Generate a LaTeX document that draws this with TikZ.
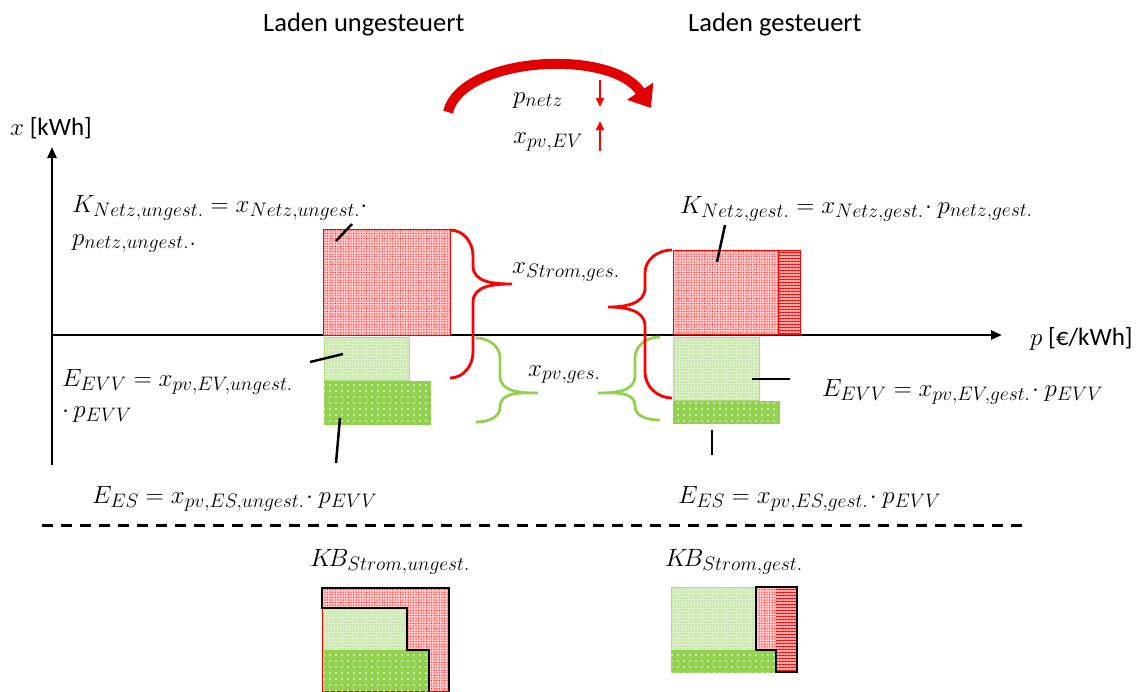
\RequirePackage{fix-cm}
\documentclass[tikz,border=0pt]{standalone}
\usepackage[no-math]{fontspec}
\setmainfont{Carlito}
\DeclareMathSizes{25}{25}{19.5}{15}
\usetikzlibrary{arrows.meta,patterns.meta}
\definecolor{gdark}{HTML}{92D050}
\definecolor{glight}{HTML}{DCEFCB}
\definecolor{rfill}{HTML}{FFC4C4}
\definecolor{rarc}{HTML}{E00000}
\begin{document}
\begin{tikzpicture}[x=1pt,y=-1pt,
  lbl/.style={inner sep=0pt, font=\fontsize{25}{29}\selectfont},
  ttl/.style={inner sep=0pt, font=\fontsize{26.5}{30}\selectfont},
  box/.style={inner sep=0pt, outer sep=0pt, anchor=north west},
  redbox/.style={box, draw=red, line width=0.8pt, fill=rfill,
     postaction={pattern={Dots[distance=2.6pt,radius=0.55pt]}, pattern color=red}},
  stripebox/.style={box, draw=red, line width=1pt, fill=red!35,
     postaction={pattern={Lines[distance=3pt,angle=0,line width=1pt]}, pattern color=red}},
  glbox/.style={box, draw=gdark!70, line width=0.6pt, fill=glight,
     postaction={pattern={Dots[distance=3pt,radius=0.6pt]}, pattern color=gdark}},
  gdbox/.style={box, draw=gdark, line width=0.6pt, fill=gdark,
     postaction={pattern={Dots[distance=6pt,radius=0.8pt]}, pattern color=white}},
  rbrace/.style={draw=red, line width=2.8pt},
  gbrace/.style={draw=gdark, line width=2.8pt},
  leader/.style={draw=black, line width=2.5pt},
  axis/.style={draw=black, line width=2.5pt, -{Triangle[length=11pt,width=9pt]}},
  outline/.style={draw=black, line width=2.5pt, line join=miter}
]
\useasboundingbox (0,0) rectangle (1145,691);

% titles
\node[ttl, anchor=base west] (t1) at (263,31) {Laden ungesteuert};
\node[ttl, anchor=base west] (t2) at (688,31) {Laden gesteuert};

% curved arrow
\coordinate (arcS) at (448,112);
\coordinate (arcE) at (651,108);
\draw[rarc, line width=10pt, -{Triangle[length=20pt,width=30pt]}]
  (arcS) .. controls (462,56) and (612,48) .. (arcE);

% p_netz and x_pv,EV
\node[lbl, anchor=base west] (pn) at (513,103) {$p_{netz}$};
\node[lbl, anchor=base west] (xpe) at (513,143) {$x_{pv,EV}$};
\coordinate (d1) at (600,80); \coordinate (d2) at (600,107);
\coordinate (u1) at (600,151); \coordinate (u2) at (600,121);
\draw[red, line width=2pt, -{Triangle[length=9pt,width=8pt]}] (d1) -- (d2);
\draw[red, line width=2pt, -{Triangle[length=9pt,width=8pt]}] (u1) -- (u2);

% axes
\coordinate (O) at (52,335);
\coordinate (ybot) at (52,465);
\coordinate (ytop) at (52,147);
\coordinate (xend) at (1002,335);
\draw[axis] (ybot) -- (ytop);
\draw[axis] (O) -- (xend);
\node[lbl, anchor=base west] (ylab) at (10,135) {$x$ [kWh]};
\node[lbl, anchor=base west] (xlab) at (1030,345) {$p$ [€/kWh]};

% left boxes
\node[redbox, minimum width=127pt, minimum height=106pt] (rl) at (323,229) {};
\node[glbox, minimum width=85pt, minimum height=43pt] (gll) at (324,337) {};
\node[gdbox, minimum width=106pt, minimum height=43pt] (gdl) at (324,381) {};

% right boxes
\node[redbox, minimum width=105pt, minimum height=84pt] (rr) at (673,250) {};
\node[stripebox, minimum width=22pt, minimum height=84pt] (rs) at (778,250) {};
\node[glbox, minimum width=86pt, minimum height=63pt] (glr) at (673,337) {};
\node[gdbox, minimum width=106pt, minimum height=22pt] (gdr) at (673,401) {};

% braces
\draw[rbrace] (450,230) to[out=0,in=90] (473,256) -- (473,266) to[out=-90,in=180] (512,284)
  to[out=180,in=90] (473,302) -- (473,352) to[out=-90,in=0] (450,378);
\draw[gbrace] (476,338) to[out=0,in=90] (500,358) -- (500,376) to[out=-90,in=180] (538,393)
  to[out=180,in=90] (500,407) to[out=-90,in=0] (476,422);
\draw[gbrace] (660,337) to[out=180,in=90] (635,358) -- (635,376) to[out=-90,in=0] (598,393)
  to[out=0,in=90] (635,406) to[out=-90,in=180] (660,420);
\draw[rbrace] (672,250) to[out=180,in=90] (645,273) -- (645,288) to[out=-90,in=0] (608,307)
  to[out=0,in=90] (645,326) -- (645,372) to[out=-90,in=180] (672,398);

\node[lbl, anchor=base west] (xsg) at (512,273) {$x_{Strom,ges.}$};
\node[lbl, anchor=base west] (xpg) at (528,376) {$x_{pv,ges.}$};

% labels
\node[lbl, anchor=base west] (knu) at (72,212) {$K_{Netz,ungest.} = x_{Netz,ungest.}\cdot$};
\node[lbl, anchor=base west] (pnu) at (72,245) {$p_{netz,ungest.}.$};
\node[lbl, anchor=base west] (eevu) at (62,386) {$E_{EVV} = x_{pv,EV,ungest.}$};
\node[lbl, anchor=base west] (eevu2) at (62,417) {$\cdot\, p_{EVV}$};
\node[lbl, anchor=base west] (kng) at (680,213) {$K_{Netz,gest.} = x_{Netz,gest.}\!\cdot p_{netz,gest.}$};
\node[lbl, anchor=base west] (eevg) at (822,396) {$E_{EVV} = x_{pv,EV,gest.}\!\cdot p_{EVV}$};
\node[lbl, anchor=base west] (eesu) at (92,503) {$E_{ES} = x_{pv,ES,ungest.}\!\cdot p_{EVV}$};
\node[lbl, anchor=base west] (eesg) at (678,503) {$E_{ES} = x_{pv,ES,gest.}\!\cdot p_{EVV}$};
\node[lbl, anchor=base west] (kbu) at (310,566) {$K\!B_{Strom,ungest.}$};
\node[lbl, anchor=base west] (kbg) at (665,566) {$K\!B_{Strom,gest.}$};

% leaders
\coordinate (l1a) at (336,241); \coordinate (l1b) at (352,224);
\coordinate (l2a) at (717,262); \coordinate (l2b) at (725,225);
\coordinate (l3a) at (310,362); \coordinate (l3b) at (343,354);
\coordinate (l4a) at (340,418); \coordinate (l4b) at (336,463);
\coordinate (l5a) at (752,379); \coordinate (l5b) at (790,379);
\coordinate (l6a) at (712,430); \coordinate (l6b) at (712,455);
\draw[leader] (l1a) -- (l1b);
\draw[leader] (l2a) -- (l2b);
\draw[leader] (l3a) -- (l3b);
\draw[leader] (l4a) -- (l4b);
\draw[leader] (l5a) -- (l5b);
\draw[leader] (l6a) -- (l6b);

% dashed separator
\coordinate (ds) at (42,525); \coordinate (de) at (1022,525);
\draw[black, line width=3pt, dash pattern=on 11pt off 8pt] (ds) -- (de);

% bottom left composite
\node[redbox, minimum width=127pt, minimum height=103pt] (bl) at (322,588) {};
\node[glbox, minimum width=83pt, minimum height=42pt, draw=none] (bll) at (324,608) {};
\node[gdbox, minimum width=105pt, minimum height=41pt, draw=none] (bld) at (324,650) {};
\draw[outline] (449,691) -- (449,588) -- (322,588) -- (322,608) -- (407,608) -- (407,650) -- (429,650) -- (429,691);

% bottom right composite
\node[glbox, minimum width=85pt, minimum height=63pt] (brl) at (671,587) {};
\node[gdbox, minimum width=105pt, minimum height=22pt] (brd) at (671,650) {};
\node[redbox, minimum width=20pt, minimum height=63pt, draw=none] (brr) at (756,587) {};
\node[stripebox, minimum width=21pt, minimum height=85pt, draw=none] (brs) at (776,587) {};
\draw[outline] (756,587) -- (797,587) -- (797,672) -- (776,672) -- (776,650) -- (756,650) -- cycle;
\end{tikzpicture}
\end{document}
